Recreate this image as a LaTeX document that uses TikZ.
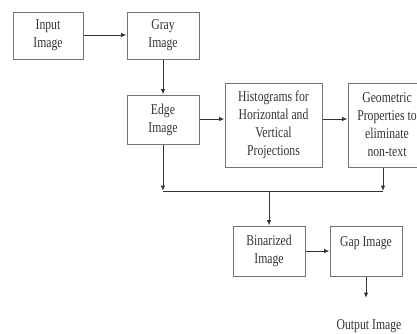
\documentclass[tikz,border=0pt]{standalone}
\usepackage{fontspec}
\usetikzlibrary{arrows.meta}
\setmainfont[FakeStretch=0.78]{Liberation Serif}
\begin{document}
\begin{tikzpicture}[>={Latex[length=5.5pt,width=4.5pt]}, x=1pt, y=-1pt,
  box/.style={draw=black!55, line width=1pt, align=center, inner sep=0pt,
    text=black!80, font=\fontsize{15}{18}\selectfont},
  flow/.style={->, black!80, line width=1pt}]
\useasboundingbox (0,0) rectangle (417,333);
\clip (0,0) rectangle (417,333);
\node[box, minimum width=70, minimum height=47] (input) at (48,35.5) {Input\\Image};
\node[box, minimum width=72, minimum height=47] (gray) at (163,35.5) {Gray\\Image};
\node[box, minimum width=72, minimum height=49] (edge) at (163,119.5) {Edge\\Image};
\node[box, minimum width=97, minimum height=84] (hist) at (273.5,125) {Histograms for\\Horizontal and\\Vertical\\Projections};
\node[box, minimum width=78, minimum height=84] (geo) at (387,125) {Geometric\\Properties to\\eliminate\\non-text};
\node[box, minimum width=72, minimum height=50] (bin) at (269,251) {Binarized\\Image};
\node[box, minimum width=72, minimum height=50] (gap) at (366,251) {Gap Image\\\mbox{}};
\node[text=black!80, font=\fontsize{15}{18}\selectfont, inner sep=0pt] (output) at (369,326) {Output Image};
\coordinate (jl) at (163,191);
\coordinate (jr) at (383,191);
\coordinate (jm) at (269,191);
\coordinate (outend) at (366,298);
% arrows
\draw[flow] (input.east |- 0,35) -- (gray.west |- 0,35);
\draw[flow] (gray) -- (edge);
\draw[flow] (edge.east |- 0,119) -- (hist.west |- 0,119);
\draw[flow] (hist.east |- 0,119) -- (geo.west |- 0,119);
\draw[flow] (edge) -- (jl);
\draw[flow] (geo.south -| jr) -- (jr);
\draw[black!80, line width=1pt] (jl) -- (jr);
\draw[flow] (jm) -- (bin);
\draw[flow] (bin.east |- 0,251) -- (gap.west |- 0,251);
\draw[flow] (gap) -- (outend);
\end{tikzpicture}
\end{document}
